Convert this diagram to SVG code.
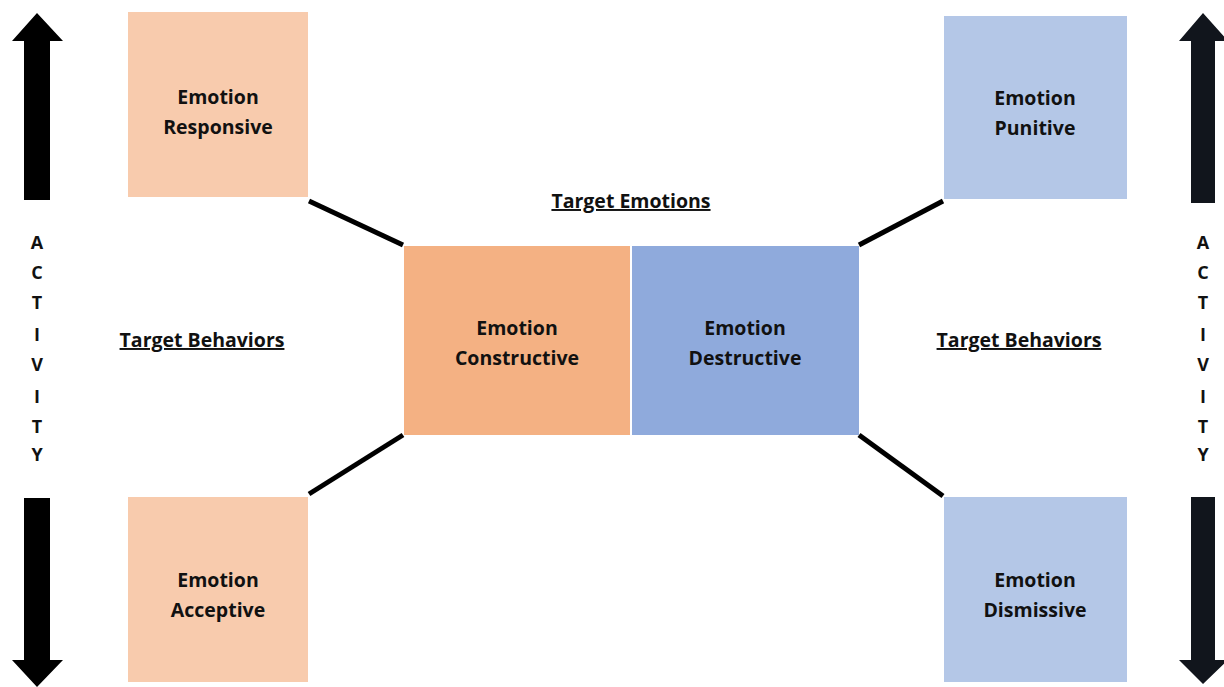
<svg xmlns="http://www.w3.org/2000/svg" width="1224" height="687" viewBox="0 0 1224 687">
<style>
.t{font-family:"Open Sans","Liberation Sans",sans-serif;font-weight:bold;font-size:19.5px;fill:#111;text-anchor:middle}
.u{text-decoration:underline}
.lt{font-family:"Open Sans","Liberation Sans",sans-serif;font-weight:bold;font-size:18px;fill:#111;text-anchor:middle}
.c{stroke:#000;stroke-width:5;fill:none}
</style>
<rect width="1224" height="687" fill="#fff"/>
<g id="arrow-left-up"><polygon points="37,13 63,41 50,41 50,200 24,200 24,41 12,41" fill="#000"/></g>
<g id="arrow-left-down"><polygon points="24,498 50,498 50,660 63,660 37,687 12,660 24,660" fill="#000"/></g>
<g id="arrow-right-up"><polygon points="1203,13 1228,41 1215,41 1215,203 1191,203 1191,41 1179,41" fill="#11151c"/></g>
<g id="arrow-right-down"><polygon points="1191,497 1215,497 1215,660 1228,660 1203,684 1179,660 1191,660" fill="#11151c"/></g>
<g id="activity-left">
<text class="lt" x="37" y="249">A</text><text class="lt" x="37" y="279">C</text><text class="lt" x="37" y="309">T</text><text class="lt" x="37" y="341">I</text><text class="lt" x="37" y="371">V</text><text class="lt" x="37" y="403">I</text><text class="lt" x="37" y="433">T</text><text class="lt" x="37" y="461">Y</text>
</g>
<g id="activity-right">
<text class="lt" x="1203" y="249">A</text><text class="lt" x="1203" y="279">C</text><text class="lt" x="1203" y="309">T</text><text class="lt" x="1203" y="341">I</text><text class="lt" x="1203" y="371">V</text><text class="lt" x="1203" y="403">I</text><text class="lt" x="1203" y="433">T</text><text class="lt" x="1203" y="461">Y</text>
</g>
<g id="connectors">
<line class="c" x1="309" y1="201" x2="403" y2="245"/>
<line class="c" x1="309" y1="494" x2="403" y2="435"/>
<line class="c" x1="859" y1="245" x2="943" y2="201"/>
<line class="c" x1="859" y1="435" x2="943" y2="496"/>
</g>
<g id="responsive"><rect x="128" y="12" width="180" height="185" fill="#f8cbad"/><text class="t" x="218" y="104">Emotion</text><text class="t" x="218" y="134">Responsive</text></g>
<g id="acceptive"><rect x="128" y="497" width="180" height="185" fill="#f8cbad"/><text class="t" x="218" y="587">Emotion</text><text class="t" x="218" y="617">Acceptive</text></g>
<g id="punitive"><rect x="944" y="16" width="183" height="183" fill="#b4c7e7"/><text class="t" x="1035" y="105">Emotion</text><text class="t" x="1035" y="135">Punitive</text></g>
<g id="dismissive"><rect x="944" y="497" width="183" height="185" fill="#b4c7e7"/><text class="t" x="1035" y="587">Emotion</text><text class="t" x="1035" y="617">Dismissive</text></g>
<g id="constructive"><rect x="404" y="246" width="226" height="189" fill="#f4b183"/><text class="t" x="517" y="335">Emotion</text><text class="t" x="517" y="365">Constructive</text></g>
<g id="destructive"><rect x="632" y="246" width="227" height="189" fill="#8faadc"/><text class="t" x="745" y="335">Emotion</text><text class="t" x="745" y="365">Destructive</text></g>
<g id="labels">
<text class="t u" x="631" y="208">Target Emotions</text>
<text class="t u" x="202" y="347">Target Behaviors</text>
<text class="t u" x="1019" y="347">Target Behaviors</text>
</g>
</svg>
